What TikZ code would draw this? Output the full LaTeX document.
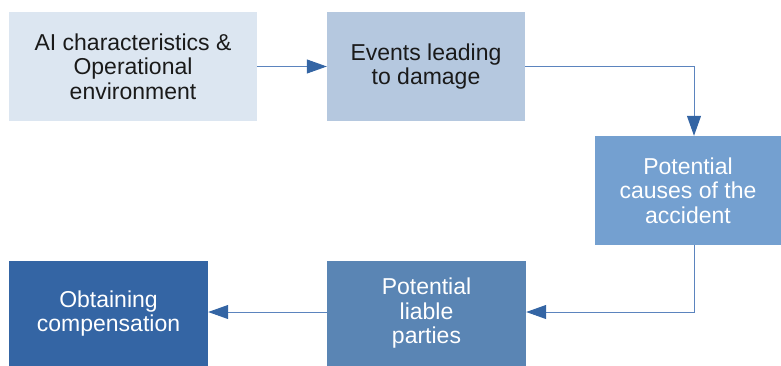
\documentclass[tikz,border=0pt]{standalone}
\usepackage{fontspec}
\setmainfont{Liberation Sans}
\usetikzlibrary{arrows.meta}
\definecolor{cA}{HTML}{DCE6F1}
\definecolor{cB}{HTML}{B5C8DF}
\definecolor{cC}{HTML}{74A0D0}
\definecolor{cD}{HTML}{5A85B4}
\definecolor{cE}{HTML}{3465A4}
\definecolor{lineC}{HTML}{5B84BE}
\definecolor{headC}{HTML}{3465A4}
\definecolor{txtD}{HTML}{1A1A1A}
\begin{document}
\begin{tikzpicture}[x=1pt,y=-1pt,
  boxnode/.style={rectangle, inner sep=0pt, align=center,
    font=\fontsize{23}{24.5}\selectfont},
  conn/.style={draw=lineC, line width=1pt,
    -{Triangle[length=20pt,width=14pt,color=headC]}}]
\useasboundingbox (0,0) rectangle (781,365);
\node[boxnode, fill=cA, text=txtD, minimum width=248pt, minimum height=109pt] (a) at (133,66.5)
  {AI characteristics \&\\Operational\\environment};
\node[boxnode, fill=cB, text=txtD, minimum width=198pt, minimum height=109pt] (b) at (426,66.5)
  {Events leading\\to damage};
\node[boxnode, fill=cC, text=white, minimum width=186pt, minimum height=109pt] (c) at (688,190.5)
  {Potential\\causes of the\\accident};
\node[boxnode, fill=cD, text=white, minimum width=199pt, minimum height=105pt] (d) at (426.5,313.5)
  {Potential\\liable\\parties};
\node[boxnode, fill=cE, text=white, minimum width=199pt, minimum height=105pt] (e) at (108.5,313.5)
  {Obtaining\\compensation};
\draw[conn] (a.east) -- (b.west);
\draw[conn] (b.east) -| ([xshift=6pt]c.north);
\draw[conn] ([xshift=6pt]c.south) |- ([yshift=1.5pt]d.east);
\draw[conn] ([yshift=1.5pt]d.west) -- ([yshift=1.5pt]e.east);
\end{tikzpicture}
\end{document}
